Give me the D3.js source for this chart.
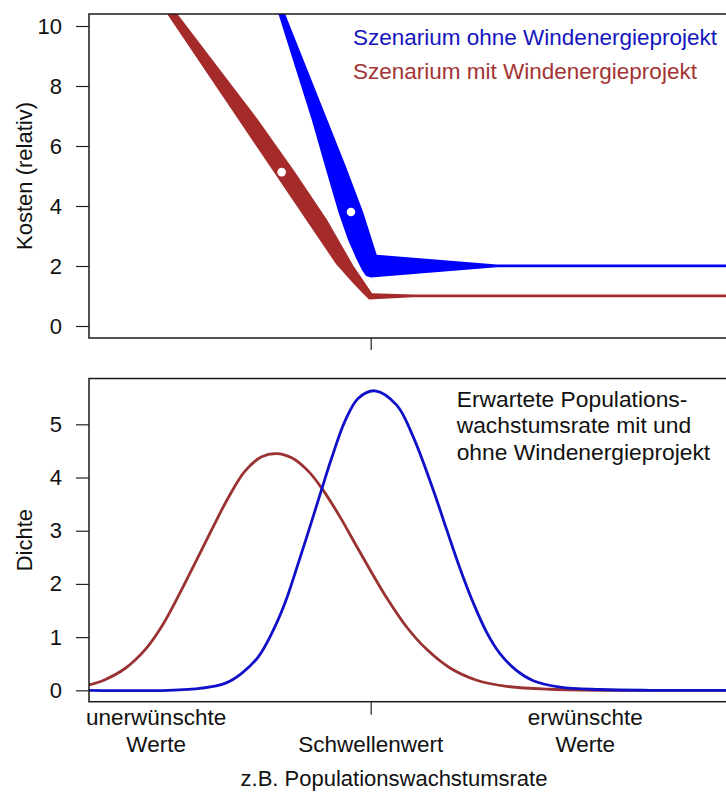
<!DOCTYPE html>
<html>
<head>
<meta charset="utf-8">
<script src="https://cdn.jsdelivr.net/npm/d3@7"></script>
<style>
  body { margin: 0; background: #fff; }
  text { font-family: "Liberation Sans", Arial, sans-serif; }
</style>
</head>
<body>
<svg id="chart" width="726" height="795"></svg>
<script>
// --- data ---
// x: abstract growth rate, threshold ("Schwellenwert") at 0
const costTicks = [0, 2, 4, 6, 8, 10];
const densTicks = [0, 1, 2, 3, 4, 5];

// cost bands (outline edges), [x, cost]
const blueBandLower = [[-1.043, 11.0], [-0.628, 6.878], [-0.476, 5.209], [-0.343, 3.783], [-0.242, 2.871], [-0.157, 2.27], [-0.093, 1.87], [-0.05, 1.669], [0.003, 1.619], [1.342, 1.955], [4.0, 1.955]];
const blueBandUpper = [[-0.987, 11.0], [-0.462, 6.878], [-0.263, 5.309], [-0.079, 3.783], [0.064, 2.371], [1.342, 2.05], [4.0, 2.05]];
const redBandLower = [[-2.297, 11.0], [-0.689, 3.539], [-0.37, 2.07], [-0.199, 1.469], [-0.093, 1.119], [-0.018, 0.885], [0.45, 0.955], [4.0, 0.955]];
const redBandUpper = [[-2.204, 11.0], [-1.2, 6.878], [-0.806, 5.132], [-0.465, 3.539], [-0.189, 2.037], [0.014, 1.092], [0.45, 1.05], [4.0, 1.05]];
const blueMean = [-0.21, 3.8];
const redMean = [-0.948, 5.13];

// density curves, [x, density]
const blueDensity = [[-3.0, 0], [-2.159, 0], [-1.8, 0.04], [-1.552, 0.13], [-1.374, 0.32], [-1.197, 0.63], [-1.054, 1.07], [-0.913, 1.64], [-0.771, 2.39], [-0.628, 3.18], [-0.522, 3.78], [-0.415, 4.37], [-0.274, 5.06], [-0.132, 5.49], [0.046, 5.63], [0.277, 5.36], [0.454, 4.76], [0.667, 3.76], [0.809, 3.02], [0.951, 2.29], [1.093, 1.64], [1.235, 1.09], [1.377, 0.69], [1.555, 0.37], [1.732, 0.18], [2.016, 0.06], [2.442, 0.015], [2.975, 0], [4.0, 0]];
const redDensity = [[-3.0, 0.1], [-2.83, 0.2], [-2.617, 0.41], [-2.404, 0.76], [-2.226, 1.2], [-2.049, 1.77], [-1.871, 2.39], [-1.693, 3.02], [-1.517, 3.62], [-1.339, 4.12], [-1.161, 4.39], [-1.001, 4.45], [-0.841, 4.37], [-0.665, 4.12], [-0.522, 3.8], [-0.327, 3.26], [-0.167, 2.76], [0.011, 2.21], [0.17, 1.74], [0.383, 1.19], [0.596, 0.77], [0.845, 0.42], [1.129, 0.19], [1.448, 0.075], [1.909, 0.02], [2.655, 0], [4.0, 0]];

const xLabelPos = [-2.285, 0, 2.285];
const xLabels = [["unerwünschte", "Werte"], ["", "Schwellenwert"], ["erwünschte", "Werte"]];
const legendTop = ["Szenarium ohne Windenergieprojekt", "Szenarium mit Windenergieprojekt"];
const legendBottom = ["Erwartete Populations-", "wachstumsrate mit und", "ohne Windenergieprojekt"];

const blueBand = "#0000ff", redBand = "#a52a2a";
const blueLine = "#1010c8", redLine = "#9a3232";
const blueText = "#1515c0", redText = "#a33434";

// --- layout ---
const left = 89, right = 746.3;
const topP = { top: 14, bottom: 338 };
const botP = { top: 378.5, bottom: 701.7 };

const svg = d3.select("#chart");

const x = d3.scaleLinear().domain([-3, 4]).range([left, right]);
const yCost = d3.scaleLinear().domain([-0.4, 10.4]).range([topP.bottom, topP.top]);
const yDens = d3.scaleLinear().domain([-0.214, 5.861]).range([botP.bottom, botP.top]);

const defs = svg.append("defs");
[["clipTop", topP], ["clipBot", botP]].forEach(([id, p]) => {
  defs.append("clipPath").attr("id", id)
    .append("rect")
    .attr("x", left).attr("y", p.top)
    .attr("width", right - left).attr("height", p.bottom - p.top);
});

// === TOP PANEL: cost bands ===
const gTop = svg.append("g").attr("clip-path", "url(#clipTop)");
const poly = d3.line().x(d => x(d[0])).y(d => yCost(d[1]));

gTop.append("path")
  .attr("d", poly(redBandLower.concat(redBandUpper.slice().reverse())) + "Z")
  .attr("fill", redBand);
gTop.append("path")
  .attr("d", poly(blueBandLower.concat(blueBandUpper.slice().reverse())) + "Z")
  .attr("fill", blueBand);

gTop.selectAll("circle")
  .data([redMean, blueMean])
  .join("circle")
  .attr("cx", d => x(d[0]))
  .attr("cy", d => yCost(d[1]))
  .attr("r", 4.3)
  .attr("fill", "#fff");

// === BOTTOM PANEL: densities ===
const gBot = svg.append("g").attr("clip-path", "url(#clipBot)");
const dline = d3.line().x(d => x(d[0])).y(d => yDens(d[1])).curve(d3.curveCatmullRom.alpha(0.5));

gBot.append("path").attr("d", dline(redDensity))
  .attr("fill", "none").attr("stroke", redLine).attr("stroke-width", 2.8);
gBot.append("path").attr("d", dline(blueDensity))
  .attr("fill", "none").attr("stroke", blueLine).attr("stroke-width", 2.8);

// boxes
[topP, botP].forEach(p => {
  svg.append("rect")
    .attr("x", left).attr("y", p.top)
    .attr("width", right - left).attr("height", p.bottom - p.top)
    .attr("fill", "none").attr("stroke", "#1a1a1a").attr("stroke-width", 1.5);
});

// axes
function styleAxis(g) {
  g.select(".domain").remove();
  g.selectAll("line").attr("stroke", "#222").attr("stroke-width", 1.2);
  g.selectAll("text").attr("font-size", 22).attr("fill", "#111")
    .style("font-family", '"Liberation Sans", Arial, sans-serif');
}

svg.append("g").attr("transform", `translate(${left},0)`)
  .call(d3.axisLeft(yCost).tickValues(costTicks).tickSize(13).tickPadding(14).tickFormat(d3.format("d")))
  .call(styleAxis);
svg.append("g").attr("transform", `translate(${left},0)`)
  .call(d3.axisLeft(yDens).tickValues(densTicks).tickSize(13).tickPadding(14).tickFormat(d3.format("d")))
  .call(styleAxis);

svg.append("g").attr("transform", `translate(0,${topP.bottom})`)
  .call(d3.axisBottom(x).tickValues([0]).tickSize(12).tickFormat(""))
  .call(styleAxis);
svg.append("g").attr("transform", `translate(0,${botP.bottom})`)
  .call(d3.axisBottom(x).tickValues([0]).tickSize(13).tickFormat(""))
  .call(styleAxis);

// x category labels
xLabelPos.forEach((v, i) => {
  xLabels[i].forEach((t, j) => {
    if (!t) return;
    svg.append("text")
      .attr("x", x(v)).attr("y", 725 + j * 26.5)
      .attr("text-anchor", "middle")
      .attr("font-size", 22.5).attr("fill", "#111")
      .text(t);
  });
});

svg.append("text")
  .attr("x", 394).attr("y", 786)
  .attr("text-anchor", "middle")
  .attr("font-size", 22).attr("fill", "#111")
  .text("z.B. Populationswachstumsrate");

// y titles
svg.append("text")
  .attr("transform", `translate(32,${(topP.top + topP.bottom) / 2}) rotate(-90)`)
  .attr("text-anchor", "middle")
  .attr("font-size", 22).attr("fill", "#111")
  .text("Kosten (relativ)");
svg.append("text")
  .attr("transform", `translate(32,${(botP.top + botP.bottom) / 2}) rotate(-90)`)
  .attr("text-anchor", "middle")
  .attr("font-size", 22).attr("fill", "#111")
  .text("Dichte");

// legends
svg.selectAll(".legTop")
  .data(legendTop)
  .join("text")
  .attr("class", "legTop")
  .attr("x", 353).attr("y", (d, i) => 45 + i * 33.5)
  .attr("font-size", 22.5)
  .attr("fill", (d, i) => i === 0 ? blueText : redText)
  .text(d => d);

svg.selectAll(".legBot")
  .data(legendBottom)
  .join("text")
  .attr("class", "legBot")
  .attr("x", 456.7).attr("y", (d, i) => 406.7 + i * 26.7)
  .attr("font-size", 22.8).attr("fill", "#111")
  .text(d => d);
</script>
</body>
</html>
